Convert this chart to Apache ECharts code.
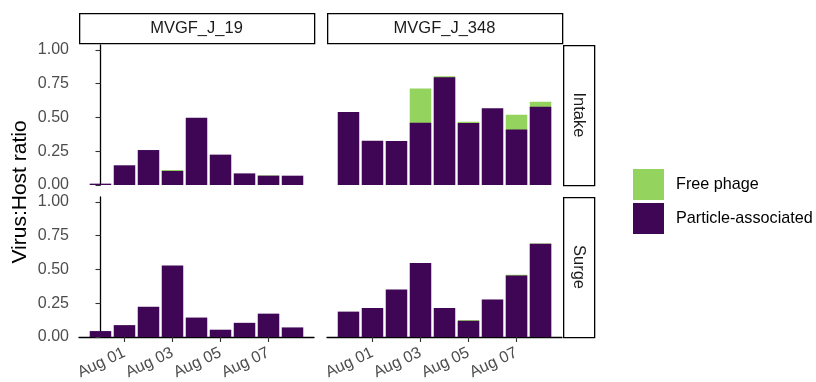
<!DOCTYPE html>
<html>
<head>
<meta charset="utf-8">
<script src="https://cdn.jsdelivr.net/npm/echarts@6/dist/echarts.min.js"></script>
<style>html,body{margin:0;padding:0;background:#fff}#c{width:816px;height:382px}</style>
</head>
<body>
<div id="c"></div>
<script>
// ---- data ----
const days = ['Jul 31','Aug 01','Aug 02','Aug 03','Aug 04','Aug 05','Aug 06','Aug 07','Aug 08'];
const tickDayIdx = [1, 3, 5, 7];
const yTicks = [0, 0.25, 0.5, 0.75, 1.0];
const hosts = ['MVGF_J_19', 'MVGF_J_348'];
const sites = ['Intake', 'Surge'];
const seriesNames = ['Free phage', 'Particle-associated'];

// Intake
const intake19Particle = [0.010, 0.146, 0.259, 0.104, 0.499, 0.225, 0.086, 0.069, 0.069];
const intake19Free     = [0.000, 0.000, 0.000, 0.007, 0.000, 0.000, 0.000, 0.002, 0.000];
const intake348Particle = [0.541, 0.328, 0.326, 0.462, 0.798, 0.459, 0.568, 0.412, 0.580];
const intake348Free     = [0.000, 0.000, 0.000, 0.252, 0.007, 0.010, 0.000, 0.109, 0.037];
// Surge
const surge19Particle = [0.044, 0.088, 0.224, 0.529, 0.144, 0.054, 0.105, 0.173, 0.071];
const surge19Free     = [0.000, 0.000, 0.000, 0.000, 0.000, 0.000, 0.000, 0.000, 0.000];
const surge348Particle = [0.188, 0.215, 0.351, 0.549, 0.215, 0.120, 0.278, 0.456, 0.690];
const surge348Free     = [0.000, 0.000, 0.000, 0.000, 0.000, 0.005, 0.000, 0.005, 0.003];

const colors = {'Free phage': '#95D35F', 'Particle-associated': '#400656'};

const panels = [
  {row: 0, col: 0, particle: intake19Particle, free: intake19Free},
  {row: 0, col: 1, particle: intake348Particle, free: intake348Free},
  {row: 1, col: 0, particle: surge19Particle, free: surge19Free},
  {row: 1, col: 1, particle: surge348Particle, free: surge348Free}
];

// ---- layout ----
const colLeft = [79, 327];
const panelW = 235;
const rowTop = [45, 197];
const panelH = 140;
const font = 'Liberation Sans, Arial, Helvetica, sans-serif';

const grid = [], xAxis = [], yAxis = [], series = [];
panels.forEach((p, i) => {
  grid.push({left: colLeft[p.col], top: rowTop[p.row], width: panelW, height: panelH});
  const bottomRow = p.row === 1;
  const leftCol = p.col === 0;
  xAxis.push({
    type: 'value', gridIndex: i, min: -0.895, max: 8.895,
    splitLine: {show: false},
    axisLine: {show: bottomRow, onZero: false, lineStyle: {color: '#000', width: 1.3}},
    axisTick: {show: bottomRow, length: 5, customValues: tickDayIdx, lineStyle: {color: '#333', width: 1.1}},
    axisLabel: {
      show: bottomRow, customValues: tickDayIdx, rotate: 25, margin: 15,
      color: '#4D4D4D', fontSize: 16, fontFamily: font,
      formatter: v => days[Math.round(v)] || ''
    }
  });
  yAxis.push({
    type: 'value', gridIndex: i, min: 0, max: 1.037,
    splitLine: {show: false},
    axisLine: {show: leftCol, lineStyle: {color: '#000', width: 1.3}},
    axisTick: {show: leftCol, length: 5, customValues: yTicks, lineStyle: {color: '#333', width: 1.1}},
    axisLabel: {
      show: leftCol, customValues: yTicks, margin: 10,
      color: '#4D4D4D', fontSize: 16, fontFamily: font,
      formatter: v => v.toFixed(2)
    }
  });
  // Stacked look: total (free on top of particle) drawn first, particle part drawn over it.
  series.push({
    name: 'Free phage', type: 'bar', xAxisIndex: i, yAxisIndex: i,
    barWidth: 21.5, barGap: '-100%',
    data: p.particle.map((v, k) => p.free[k] > 0 ? [k, v + p.free[k]] : [k, '-']),
    itemStyle: {color: colors['Free phage']},
    silent: true
  });
  series.push({
    name: 'Particle-associated', type: 'bar', xAxisIndex: i, yAxisIndex: i,
    barWidth: 21.5, barGap: '-100%',
    data: p.particle.map((v, k) => [k, v]),
    itemStyle: {color: colors['Particle-associated']},
    silent: true
  });
});

// strips
const graphic = [];
hosts.forEach((h, c) => {
  graphic.push({type: 'rect', left: colLeft[c], top: 13, shape: {width: panelW, height: 30},
    style: {fill: '#fff', stroke: '#000', lineWidth: 1.3}});
  graphic.push({type: 'text', x: colLeft[c] + panelW / 2, y: 28,
    style: {text: h, fill: '#1A1A1A', font: '16.5px ' + font, textAlign: 'center', textVerticalAlign: 'middle'}});
});
sites.forEach((s, r) => {
  graphic.push({type: 'rect', left: 563, top: rowTop[r], shape: {width: 31, height: panelH},
    style: {fill: '#fff', stroke: '#000', lineWidth: 1.3}});
  graphic.push({type: 'text', x: 578.5, y: rowTop[r] + panelH / 2, rotation: -Math.PI / 2,
    style: {text: s, fill: '#1A1A1A', font: '16.5px ' + font, textAlign: 'center', textVerticalAlign: 'middle'}});
});
graphic.push({type: 'text', x: 20, y: 192, rotation: Math.PI / 2,
  style: {text: 'Virus:Host ratio', fill: '#000', font: '21px ' + font, textAlign: 'center', textVerticalAlign: 'middle'}});

const chart = echarts.init(document.getElementById('c'), null, {renderer: 'canvas'});
chart.setOption({
  animation: false,
  backgroundColor: '#fff',
  grid, xAxis, yAxis, series, graphic,
  legend: {
    data: seriesNames.map(n => ({name: n, icon: 'rect'})),
    orient: 'vertical', left: 628, top: 164,
    itemWidth: 31, itemHeight: 31, itemGap: 3,
    textStyle: {fontSize: 16.2, color: '#000', fontFamily: font, padding: [0, 0, 0, 7]},
    selectedMode: false
  }
});
</script>
</body>
</html>
